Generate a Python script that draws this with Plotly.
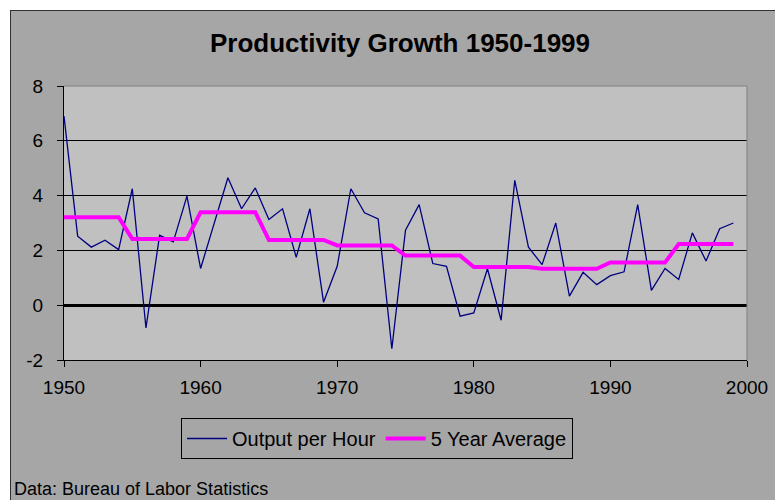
import plotly.graph_objects as go

# Annual productivity growth (%)
years = list(range(1950, 2000))
output_per_hour = [
    6.9, 2.52, 2.12, 2.37, 2.03, 4.25, -0.83, 2.55, 2.31, 3.98,
    1.34, 3.0, 4.65, 3.52, 4.28, 3.13, 3.52, 1.75, 3.52, 0.11,
    1.42, 4.25, 3.37, 3.15, -1.59, 2.74, 3.67, 1.52, 1.42, -0.4,
    -0.28, 1.33, -0.55, 4.56, 2.12, 1.48, 3.0, 0.33, 1.2, 0.75,
    1.08, 1.22, 3.67, 0.54, 1.34, 0.94, 2.64, 1.61, 2.79, 3.0,
]
five_year_avg = [
    3.21, 3.21, 3.21, 3.21, 3.21, 2.42, 2.42, 2.42, 2.42, 2.42,
    3.39, 3.39, 3.39, 3.39, 3.39, 2.38, 2.38, 2.38, 2.38, 2.38,
    2.18, 2.18, 2.18, 2.18, 2.18, 1.81, 1.81, 1.81, 1.81, 1.81,
    1.39, 1.39, 1.39, 1.39, 1.39, 1.33, 1.33, 1.33, 1.33, 1.33,
    1.56, 1.56, 1.56, 1.56, 1.56, 2.23, 2.23, 2.23, 2.23, 2.23,
]
x_ticks = [1950, 1960, 1970, 1980, 1990, 2000]
y_ticks = [-2, 0, 2, 4, 6, 8]
y_labels = ["-2", "0", "2", "4", "6", "8"]

FONT = "Arial, 'Liberation Sans', sans-serif"
CHART_GRAY = "#a6a6a6"
PLOT_GRAY = "#c0c0c0"

# pixel layout of the 775x500 page
W, H = 775, 500
L, R, T, B = 64, 747, 86, 360


def px_x(px):
    return (px - L) / (R - L)


def px_y(py):
    return (B - py) / (B - T)


fig = go.Figure()
fig.add_trace(
    go.Scatter(
        x=years,
        y=output_per_hour,
        mode="lines",
        name="Output per Hour",
        line=dict(color="#000080", width=1.3),
    )
)
fig.add_trace(
    go.Scatter(
        x=years,
        y=five_year_avg,
        mode="lines",
        name="5 Year Average",
        line=dict(color="#ff00ff", width=4),
    )
)

shapes = [
    # white page edge above and left of the chart area
    dict(type="rect", xref="paper", yref="paper", layer="below",
         x0=px_x(-5), x1=px_x(W + 5), y0=px_y(10), y1=px_y(-5),
         fillcolor="white", line=dict(width=0)),
    dict(type="rect", xref="paper", yref="paper", layer="below",
         x0=px_x(-5), x1=px_x(10), y0=px_y(H + 5), y1=px_y(-5),
         fillcolor="white", line=dict(width=0)),
    dict(type="line", xref="paper", yref="paper", layer="below",
         x0=px_x(10), x1=px_x(W + 5), y0=px_y(10.5), y1=px_y(10.5),
         line=dict(color="#303030", width=1)),
    dict(type="line", xref="paper", yref="paper", layer="below",
         x0=px_x(10.5), x1=px_x(10.5), y0=px_y(10), y1=px_y(H + 5),
         line=dict(color="#303030", width=1)),
    # plot area border on top and right
    dict(type="line", xref="paper", yref="paper", layer="above",
         x0=0, x1=1, y0=1, y1=1, line=dict(color="#808080", width=1)),
    dict(type="line", xref="paper", yref="paper", layer="above",
         x0=1, x1=1, y0=0, y1=1, line=dict(color="#808080", width=1)),
]

fig.update_layout(
    width=W,
    height=H,
    margin=dict(l=L, r=W - R, t=T, b=H - B, autoexpand=False),
    paper_bgcolor=CHART_GRAY,
    plot_bgcolor=PLOT_GRAY,
    font=dict(family=FONT, color="black", size=19),
    title=dict(
        text="<b>Productivity Growth 1950-1999</b>",
        font=dict(family=FONT, size=26, color="black"),
        x=400 / W,
        xref="container",
        xanchor="center",
        y=1 - 43 / H,
        yref="container",
        yanchor="middle",
    ),
    xaxis=dict(
        range=[1950, 2000],
        tickvals=x_ticks,
        ticks="outside",
        ticklen=6,
        tickcolor="black",
        showline=True,
        linecolor="black",
        linewidth=1,
        showgrid=False,
        zeroline=False,
        tickfont=dict(size=19),
        ticklabelstandoff=4,
    ),
    yaxis=dict(
        range=[-2, 8],
        tickvals=y_ticks,
        ticktext=y_labels,
        ticks="outside",
        ticklen=6,
        tickcolor="black",
        showline=True,
        linecolor="black",
        linewidth=1,
        showgrid=True,
        gridcolor="black",
        gridwidth=1,
        zeroline=True,
        zerolinecolor="black",
        zerolinewidth=3,
        tickfont=dict(size=19),
        ticklabelstandoff=10,
    ),
    legend=dict(
        orientation="h",
        x=px_x(377),
        xanchor="center",
        y=px_y(418),
        yanchor="top",
        bgcolor=CHART_GRAY,
        bordercolor="black",
        borderwidth=1,
        itemwidth=40,
        font=dict(size=20),
    ),
    shapes=shapes,
    annotations=[
        dict(
            text="Data: Bureau of Labor Statistics",
            xref="paper",
            yref="paper",
            x=px_x(12),
            y=px_y(489),
            xanchor="left",
            yanchor="middle",
            showarrow=False,
            font=dict(size=18),
        )
    ],
    showlegend=True,
)

# drop the browser's default body margin so the figure sits at the page corner
fig.write_html(
    "out.html",
    config={"displayModeBar": False},
    post_script="document.body.style.margin = '0'; document.body.style.overflow = 'hidden';",
)
